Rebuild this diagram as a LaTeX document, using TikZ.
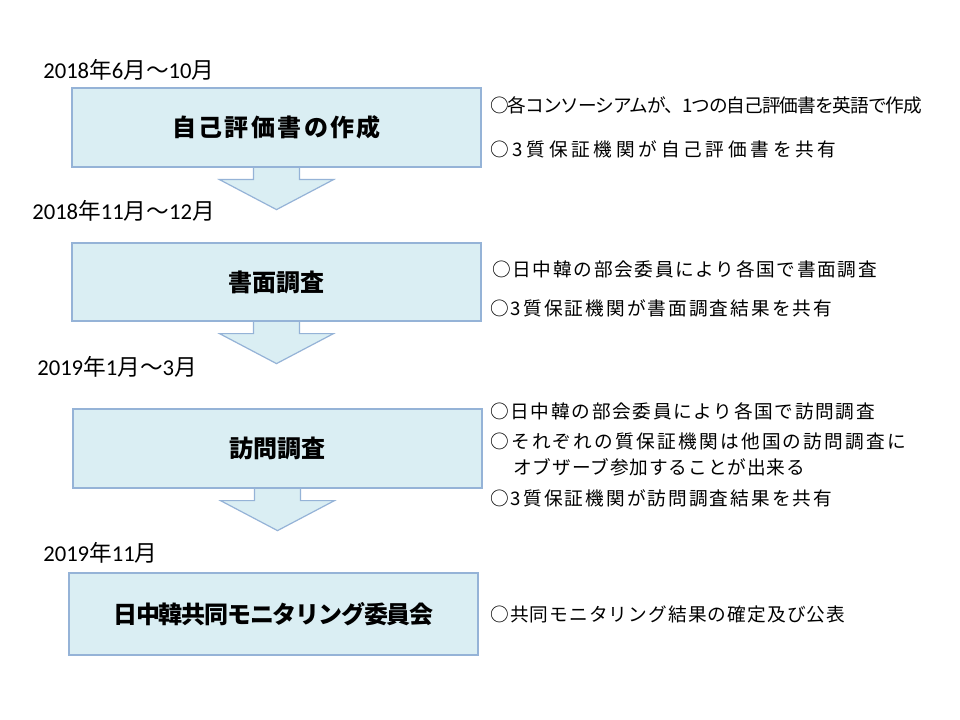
\documentclass[tikz,border=0pt]{standalone}
\usepackage{fontspec}
\setmainfont{Noto Sans CJK JP}
\newfontfamily\carl{Carlito}
\usetikzlibrary{calc,backgrounds}
\definecolor{boxfill}{HTML}{DAEEF3}
\definecolor{boxline}{HTML}{95B3D7}
\newcommand\dt[1]{{\carl #1}}
\newcommand\rt[2]{{\addfontfeatures{LetterSpace=#1}#2}}
\newcommand\flowarr[1]{%
  \draw[flowarrow] ($(#1.south)+(-23,0)$) -- ($(#1.south)+(-23,12)$) -- ($(#1.south)+(-57,12)$)
    -- ($(#1.south)+(0,42)$) -- ($(#1.south)+(57,12)$) -- ($(#1.south)+(23,12)$) -- ($(#1.south)+(23,0)$);}
\begin{document}
\begin{tikzpicture}[x=0.75pt,y=-0.75pt,
  stepbox/.style={draw=boxline, fill=boxfill, line width=0.9pt, minimum width=409*0.75pt,
    minimum height=79*0.75pt, inner sep=0pt, font=\fontsize{18}{22}\selectfont\bfseries},
  datelbl/.style={anchor=west, inner sep=0pt, font=\fontsize{17}{20}\selectfont},
  note/.style={anchor=west, inner sep=0pt, font=\fontsize{14}{17}\selectfont},
  flowarrow/.style={draw=boxline, fill=boxfill, line width=0.9pt, line join=miter}]
\useasboundingbox (0,0) rectangle (960,720);
% boxes
\node[stepbox] (b1) at (276.5,127.5) {\rt{10}{自己評価書の作成}};
\node[stepbox, minimum height=78*0.75pt] (b2) at (276.5,282) {書面調査};
\node[stepbox] (b3) at (277.5,448.5) {訪問調査};
\node[stepbox, minimum height=82*0.75pt] (b4) at (273.5,614) {\rt{-5}{日中韓共同モニタリング委員会}};
% arrows
\begin{scope}[on background layer]
\fill[white] (0,0) rectangle (960,720);
\flowarr{b1}
\flowarr{b2}
\flowarr{b3}
\end{scope}
% dates
\node[datelbl] (d1) at (43,70) {\dt{2018}年\dt{6}月～\dt{10}月};
\node[datelbl] (d2) at (32,211) {\dt{2018}年\dt{11}月～\dt{12}月};
\node[datelbl] (d3) at (37,367) {\dt{2019}年\dt{1}月～\dt{3}月};
\node[datelbl] (d4) at (43,553) {\dt{2019}年\dt{11}月};
% notes
\node[note] (n11) at (490,105) {\rt{-5.5}{○各コンソーシアムが、1つの自己評価書を英語で作成}};
\node[note] (n12) at (490,149) {\rt{20}{○3質保証機関が自己評価書を共有}};
\node[note] (n21) at (492,269) {\rt{9}{○日中韓の部会委員により各国で書面調査}};
\node[note] (n22) at (490,308) {\rt{11}{○3質保証機関が書面調査結果を共有}};
\node[note] (n31) at (490,411) {\rt{9}{○日中韓の部会委員により各国で訪問調査}};
\node[note] (n32) at (490,441) {\rt{12}{○それぞれの質保証機関は他国の訪問調査に}};
\node[note] (n33) at (513,467) {\rt{5}{オブザーブ参加することが出来る}};
\node[note] (n34) at (490,498) {\rt{11}{○3質保証機関が訪問調査結果を共有}};
\node[note] (n41) at (490,614) {\rt{6}{○共同モニタリング結果の確定及び公表}};
\end{tikzpicture}
\end{document}
